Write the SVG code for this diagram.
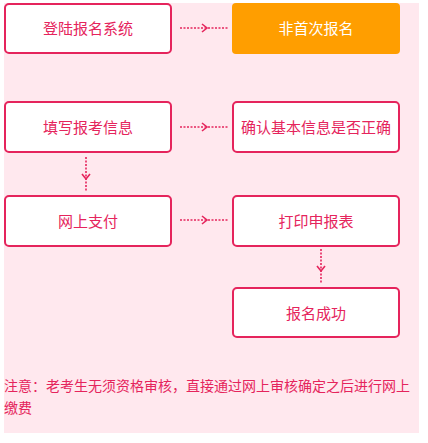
<svg xmlns="http://www.w3.org/2000/svg" width="428" height="443" viewBox="0 0 428 443">
<style>
.bg{fill:#FFE8EE}
.box{fill:#FFFFFF;stroke:#E5245C;stroke-width:2}
.org{fill:#FF9E00}
.t{font-family:"Noto Sans CJK SC","Liberation Sans",sans-serif;font-size:15px;fill:#E5245C;text-anchor:middle}
.tw{fill:#FFFFFF}
.note{font-family:"Noto Sans CJK SC","Liberation Sans",sans-serif;font-size:14px;fill:#E5245C}
.ln{stroke:#E5245C;stroke-width:1.6;stroke-dasharray:2,1.5;fill:none}
.ah{stroke:#E5245C;stroke-width:1.6;fill:none}
</style>
<rect class="bg" x="4" y="3" width="415" height="430"/>
<g id="connectors">
<line class="ln" x1="180" y1="28" x2="229" y2="28"/><path class="ah" d="M202,24 L207,28 L202,32"/>
<line class="ln" x1="180" y1="127" x2="229" y2="127"/><path class="ah" d="M202,123 L207,127 L202,131"/>
<line class="ln" x1="180" y1="220" x2="229" y2="220"/><path class="ah" d="M202,216 L207,220 L202,224"/>
<line class="ln" x1="86" y1="157" x2="86" y2="192"/><path class="ah" d="M82,174 L86,179 L90,174"/>
<line class="ln" x1="321" y1="249" x2="321" y2="284"/><path class="ah" d="M317,266 L321,271 L325,266"/>
</g>
<g id="n1"><rect class="box" x="5" y="4" width="166" height="49" rx="4"/><text class="t" x="88" y="34">登陆报名系统</text></g>
<g id="n2"><rect class="org" x="232" y="3" width="168" height="51" rx="4"/><text class="t tw" x="316" y="34">非首次报名</text></g>
<g id="n3"><rect class="box" x="5" y="102" width="166" height="50" rx="4"/><text class="t" x="88" y="133">填写报考信息</text></g>
<g id="n4"><rect class="box" x="233" y="102" width="166" height="50" rx="4"/><text class="t" x="316" y="133">确认基本信息是否正确</text></g>
<g id="n5"><rect class="box" x="5" y="196" width="166" height="50" rx="4"/><text class="t" x="88" y="227">网上支付</text></g>
<g id="n6"><rect class="box" x="233" y="196" width="166" height="50" rx="4"/><text class="t" x="316" y="227">打印申报表</text></g>
<g id="n7"><rect class="box" x="233" y="288" width="166" height="49" rx="4"/><text class="t" x="316" y="319">报名成功</text></g>
<text class="note" x="4" y="391">注意：老考生无须资格审核，直接通过网上审核确定之后进行网上</text>
<text class="note" x="4" y="413">缴费</text>
</svg>
